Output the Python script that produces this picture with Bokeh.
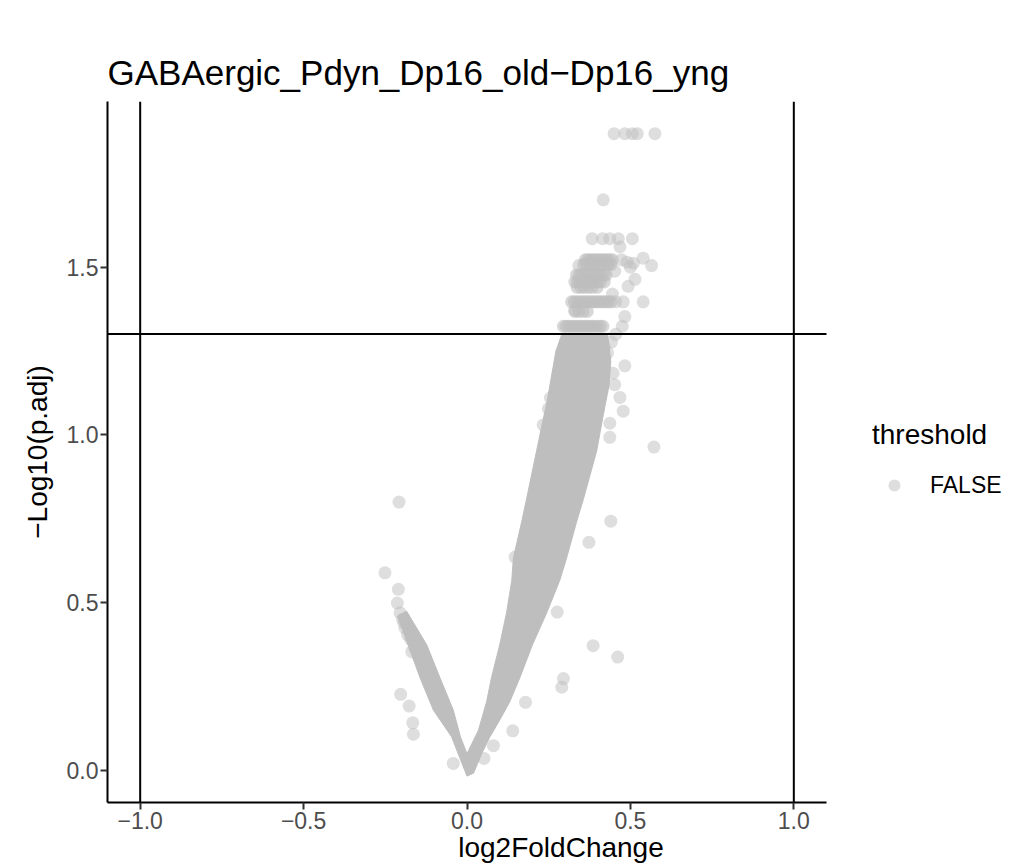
from bokeh.plotting import figure
from bokeh.models import Span, Legend, LegendItem, FixedTicker, Range1d, PrintfTickFormatter
from bokeh.embed import file_html
from bokeh.resources import INLINE

# ---- data ----
title_text = "GABAergic_Pdyn_Dp16_old\u2212Dp16_yng"
x_label = "log2FoldChange"
y_label = "\u2212Log10(p.adj)"

x_ticks = [-1.0, -0.5, 0.0, 0.5, 1.0]
x_tick_labels = ["\u22121.0", "\u22120.5", "0.0", "0.5", "1.0"]
y_ticks = [0.0, 0.5, 1.0, 1.5]
y_tick_labels = ["0.0", "0.5", "1.0", "1.5"]

fc_cutoffs = [-1.0, 1.0]
padj_cutoff = 1.30103  # -log10(0.05)

# individually distinguishable genes (log2FC, -log10 p.adj)
gene_x = [0.450, 0.483, 0.506, 0.521, 0.575,
          0.417,
          0.383, 0.415, 0.437, 0.463, 0.506,
          0.468,
          0.473, 0.509, 0.539, 0.565,
          0.514, 0.493,
          0.478, 0.539,
          0.483, 0.475, 0.442, 0.483,
          0.468, 0.478, 0.437, 0.437,
          0.572, 0.440, 0.373, 0.276,
          0.386, 0.461, 0.295, 0.290,
          0.179, 0.140, 0.081, 0.052,
          -0.197, -0.193, -0.210, -0.213, -0.251, -0.208,
          -0.203, -0.177, -0.166, -0.164, -0.042,
          -0.169, -0.123, -0.077,
          0.147, 0.233, 0.249, 0.255, 0.447, 0.452, 0.430, 0.420,
          0.342, 0.452, 0.445, 0.330, 0.455,
          0.490, 0.500, 0.455,
          -0.190, -0.182, -0.172, -0.160, -0.148, -0.205]
gene_y = [1.898, 1.898, 1.898, 1.898, 1.898,
          1.701,
          1.585, 1.585, 1.585, 1.585, 1.585,
          1.561,
          1.522, 1.512, 1.527, 1.505,
          1.464, 1.443,
          1.397, 1.397,
          1.353, 1.324, 1.277, 1.206,
          1.112, 1.071, 1.035, 0.993,
          0.964, 0.743, 0.680, 0.472,
          0.372, 0.338, 0.274, 0.248,
          0.203, 0.118, 0.074, 0.036,
          0.451, 0.440, 0.540, 0.499, 0.589, 0.800,
          0.227, 0.192, 0.142, 0.108, 0.021,
          0.354, 0.306, 0.205,
          0.636, 1.030, 1.078, 1.110, 1.184, 1.150, 1.245, 1.262,
          1.505, 1.488, 1.420, 1.372, 1.300,
          1.515, 1.500, 1.397,
          0.425, 0.405, 0.390, 0.365, 0.340, 0.470]

# genes sharing the same adjusted p value (rows of overplotted points)
row_x = [0.362, 0.369, 0.377, 0.384, 0.391, 0.399, 0.406, 0.414, 0.421, 0.429, 0.437, 0.445,
         0.356, 0.364, 0.371, 0.380, 0.388, 0.395, 0.403, 0.411, 0.418, 0.426, 0.433, 0.440,
         0.335, 0.343, 0.350, 0.358, 0.366, 0.373, 0.381, 0.389, 0.396, 0.404, 0.412, 0.419, 0.426,
         0.330, 0.338, 0.346, 0.354, 0.361, 0.369, 0.377, 0.385, 0.392, 0.400, 0.408, 0.420,
         0.337, 0.348, 0.359, 0.371, 0.383, 0.398,
         0.320, 0.328, 0.336, 0.344, 0.352, 0.360, 0.368, 0.376, 0.384, 0.392, 0.400, 0.408, 0.416, 0.424, 0.433, 0.441,
         0.330, 0.342, 0.355, 0.368,
         0.295, 0.303, 0.311, 0.319, 0.327, 0.335, 0.343, 0.351, 0.359, 0.367, 0.375, 0.383, 0.391, 0.399, 0.408, 0.416]
row_y = [1.522, 1.522, 1.522, 1.522, 1.522, 1.522, 1.522, 1.522, 1.522, 1.522, 1.522, 1.522,
         1.508, 1.508, 1.508, 1.508, 1.508, 1.508, 1.508, 1.508, 1.508, 1.508, 1.508, 1.508,
         1.477, 1.477, 1.477, 1.477, 1.477, 1.477, 1.477, 1.477, 1.477, 1.477, 1.477, 1.477, 1.477,
         1.456, 1.456, 1.456, 1.456, 1.456, 1.456, 1.456, 1.456, 1.456, 1.456, 1.456, 1.456,
         1.440, 1.440, 1.440, 1.440, 1.440, 1.440,
         1.397, 1.397, 1.397, 1.397, 1.397, 1.397, 1.397, 1.397, 1.397, 1.397, 1.397, 1.397, 1.397, 1.397, 1.397, 1.397,
         1.368, 1.368, 1.368, 1.368,
         1.324, 1.324, 1.324, 1.324, 1.324, 1.324, 1.324, 1.324, 1.324, 1.324, 1.324, 1.324, 1.324, 1.324, 1.324, 1.324]

# outline of the saturated (overplotted) mass of genes
dense_x = [0.000, 0.020, 0.045, 0.070, 0.100, 0.131, 0.162, 0.200, 0.244, 0.284,
           0.305, 0.335, 0.356, 0.397, 0.415, 0.435, 0.440, 0.430,
           0.290, 0.272, 0.263, 0.245, 0.223, 0.213,
           0.182, 0.167, 0.142, 0.137, 0.121, 0.100, 0.075, 0.060, 0.035, 0.000,
           -0.020, -0.042, -0.083, -0.123, -0.164, -0.185, -0.212, -0.180, -0.144,
           -0.103, -0.047, -0.015]
dense_y = [-0.017, -0.008, 0.050, 0.100, 0.150, 0.205, 0.277, 0.374, 0.470, 0.567,
           0.634, 0.740, 0.808, 0.953, 1.050, 1.150, 1.220, 1.300,
           1.300, 1.250, 1.200, 1.100, 1.000, 0.953,
           0.808, 0.740, 0.634, 0.567, 0.470, 0.374, 0.277, 0.205, 0.120, 0.050,
           0.100, 0.180, 0.277, 0.374, 0.441, 0.475, 0.460, 0.374, 0.277,
           0.180, 0.100, 0.020]

FONT = "Liberation Sans"
X_MIN, X_MAX = -1.1, 1.1
Y_MIN, Y_MAX = -0.0955, 1.994

# frame spans to the right figure edge so the legend can sit inside it;
# the visible panel (axis line, horizontal cut-off line) stops at X_MAX
px_per_unit = 719 / (X_MAX - X_MIN)
x_end = X_MAX + 188 / px_per_unit

p = figure(width=1014, height=865,
           x_range=Range1d(X_MIN, x_end), y_range=Range1d(Y_MIN, Y_MAX),
           output_backend="svg", toolbar_location=None,
           min_border_left=107, min_border_right=0, min_border_top=101, min_border_bottom=0)

p.title.text = title_text
p.title.text_font = FONT
p.title.text_font_size = "35px"
p.title.text_font_style = "normal"
p.title.text_color = "black"
p.title.align = "left"
p.title.standoff = 20

p.xgrid.visible = False
p.ygrid.visible = False
p.outline_line_color = None
p.background_fill_color = "white"

p.patch(dense_x, dense_y, fill_color="#BEBEBE", line_color="#BEBEBE", line_width=1)
p.scatter(row_x, row_y, size=13, fill_color="#BEBEBE", fill_alpha=0.6, line_color=None)
pts = p.scatter(gene_x, gene_y, size=13, fill_color="#BEBEBE", fill_alpha=0.5, line_color=None)

for v in fc_cutoffs:
    p.add_layout(Span(location=v, dimension="height", line_color="black", line_width=2))
p.segment(x0=[X_MIN], y0=[padj_cutoff], x1=[X_MAX], y1=[padj_cutoff], line_color="black", line_width=2)

p.xaxis.ticker = FixedTicker(ticks=x_ticks)
p.yaxis.ticker = FixedTicker(ticks=y_ticks)
p.xaxis.formatter = PrintfTickFormatter(format="%.1f")
p.yaxis.formatter = PrintfTickFormatter(format="%.1f")
p.xaxis.major_label_overrides = {t: s for t, s in zip(x_ticks, x_tick_labels)}
p.yaxis.major_label_overrides = {t: s for t, s in zip(y_ticks, y_tick_labels)}
p.xaxis.axis_label = x_label
p.yaxis.axis_label = y_label
p.xaxis.bounds = (X_MIN, X_MAX)

for ax in (p.xaxis[0], p.yaxis[0]):
    ax.axis_line_color = "black"
    ax.axis_line_width = 2
    ax.major_tick_line_color = "#333333"
    ax.major_tick_line_width = 2
    ax.major_tick_out = 7
    ax.major_tick_in = 0
    ax.minor_tick_line_color = None
    ax.major_label_text_font = FONT
    ax.major_label_text_font_size = "23px"
    ax.major_label_text_color = "#4D4D4D"
    ax.major_label_standoff = 2
    ax.axis_label_text_font = FONT
    ax.axis_label_text_font_size = "28px"
    ax.axis_label_text_font_style = "normal"
    ax.axis_label_text_color = "black"
p.xaxis.axis_label_standoff = 0
p.yaxis.axis_label_standoff = 11

legend = Legend(items=[LegendItem(label="FALSE", renderers=[pts])],
                title="threshold", location=(765, 302),
                title_text_font=FONT, title_text_font_size="28px", title_text_font_style="normal",
                title_text_color="black",
                label_text_font=FONT, label_text_font_size="23px", label_text_color="black",
                glyph_width=44, glyph_height=30, label_standoff=14,
                padding=0, margin=0, spacing=4, title_standoff=19,
                background_fill_alpha=0, border_line_alpha=0)
p.add_layout(legend)

open("out.html", "w").write(file_html(p, INLINE))
